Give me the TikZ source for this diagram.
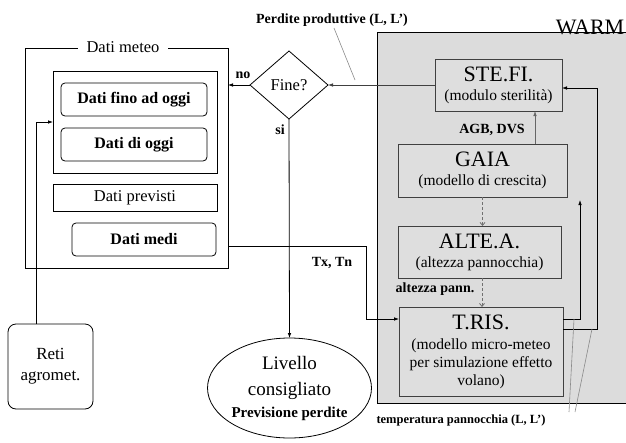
\documentclass[tikz,border=0pt]{standalone}
\usepackage{fontspec}
\setmainfont{Liberation Serif}
\usetikzlibrary{shapes.geometric,arrows.meta}
\newcommand{\fsz}[2]{\fontsize{#1}{#2}\selectfont}
\definecolor{warmbg}{HTML}{DCDCDC}
\definecolor{innergray}{HTML}{DEDEDE}
\definecolor{boxgray}{HTML}{404040}
\definecolor{dashgray}{HTML}{707070}
\definecolor{leadgray}{HTML}{8A8A8A}
\begin{document}
\begin{tikzpicture}[x=1pt,y=-1pt,
  every node/.style={inner sep=0pt,outer sep=0pt},
  arr/.style={line width=0.8pt,-{Latex[length=5pt,width=3.6pt]}},
  darr/.style={line width=0.8pt,draw=dashgray,dash pattern=on 3pt off 2pt,-{Straight Barb[length=3pt,width=5pt]}},
  leader/.style={line width=0.6pt,draw=leadgray},
  databox/.style={draw,line width=0.8pt,minimum width=146pt,minimum height=33pt,font=\fsz{16.5}{19}},
  rdatabox/.style={databox,rounded corners=4pt,font=\bfseries\fsz{16}{19}},
  warmbox/.style={draw=boxgray,fill=innergray,line width=0.9pt,align=center,font=\fsz{15.5}{18}},
  lab/.style={font=\bfseries\fsz{14}{16}},
]
\useasboundingbox (0,0) rectangle (626,442);

% WARM area
\node[fill=warmbg,minimum width=250pt,minimum height=371pt,anchor=north west] (warm) at (377,32) {};
\draw[line width=0.8pt] (warm.north east) -- (warm.north west) -- (warm.south west) -- (warm.south east);
\node[anchor=base,font=\fsz{22}{24}] (warmlab) at (590,34.5) {WARM};

% WARM modules
\node[warmbox,minimum width=127pt,minimum height=52pt] (stefi) at (498.5,85)
  {{\fsz{22}{24}STE.FI.}\\[1pt](modulo sterilità)};
\node[warmbox,minimum width=169pt,minimum height=53pt] (gaia) at (482.5,170.5)
  {{\fsz{22}{24}GAIA}\\[1pt](modello di crescita)};
\node[warmbox,minimum width=163pt,minimum height=52pt] (alte) at (479.5,252)
  {{\fsz{22}{24}ALTE.A.}\\[1pt](altezza pannocchia)};
\node[warmbox,minimum width=164pt,minimum height=89pt] (tris) at (481,351.5)
  {{\fsz{22}{24}T.RIS.}\\[2pt](modello micro-meteo\\per simulazione effetto\\volano)};

% Dati meteo
\node[draw,line width=0.8pt,minimum width=203pt,minimum height=220pt] (meteo) at (126.5,158) {};
\node[fill=white,inner xsep=9pt,inner ysep=2pt,font=\fsz{16.5}{19}] (meteolab) at (123,47) {Dati meteo};
\node[draw,line width=0.8pt,minimum width=164pt,minimum height=102pt] (inner) at (135,122) {};
\node[rdatabox] (fino) at (134,99.5) {Dati fino ad oggi};
\node[rdatabox] (oggi) at (134,144.5) {Dati di oggi};
\node[databox,minimum width=164pt,minimum height=27pt] (prev) at (135,197.5) {Dati previsti};
\node[rdatabox,minimum width=144pt] (medi) at (144,239.5) {Dati medi};

% Reti
\node[draw,line width=0.8pt,rounded corners=8pt,minimum width=85pt,minimum height=85pt,align=center,font=\fsz{17}{21}] (reti) at (50.5,366.5) {Reti\\agromet.};

% Decision
\node[draw,line width=0.8pt,diamond,minimum width=78pt,minimum height=68pt,font=\fsz{16.5}{19}] (fine) at (289,85) {Fine?};
\node[draw,line width=0.8pt,ellipse,minimum width=155pt,minimum height=100pt,align=center,font=\fsz{19}{26}] (liv) at (289.5,388)
  {Livello\\consigliato\\[-4pt]{\bfseries\fsz{15}{17}Previsione perdite}};

% labels
\node[lab] (perd) at (332,20) {Perdite produttive (L, L’)};
\node[lab] (agb) at (492,130) {AGB, DVS};
\node[lab] (txtn) at (332,263) {Tx, Tn};
\node[lab] (apann) at (435,289) {altezza pann.};
\node[lab] (nolab) at (243,75) {no};
\node[lab] (silab) at (280,130) {si};
\node[font=\bfseries\fsz{12.5}{15}] (temp) at (461,420) {temperatura pannocchia (L, L’)};

% connectors
\draw[arr,draw=boxgray] (stefi.west) -- (fine.east);
\draw[arr] (fine.west) -- (meteo.east |- fine.west);
\draw[arr] (fine.south) -- (liv.north);
\draw[arr] ([xshift=-14.5pt]reti.north) |- (inner.west);
\draw[arr] (meteo.east |- 0,246) -| (366,319) -- ([yshift=32.5pt]tris.west);
\draw[arr,draw=boxgray!80] ([xshift=52.5pt]gaia.north) -- ([xshift=52.5pt]gaia.north |- stefi.south);
\draw[darr] (gaia.south) -- (gaia.south |- alte.north);
\draw[darr] ([xshift=2.5pt]alte.south) -- ([xshift=2.5pt]alte.south |- tris.north);
\coordinate (upend) at (580,200);
\draw[arr] ([yshift=32.5pt]tris.east) -| (upend);
\draw[arr] ([yshift=22.5pt]tris.east) -| (597,88) -- (stefi.east |- 0,88);

% leaders
\draw[leader] (334,28) -- (355,80);
\draw[leader] (574,319) -- (569,412);
\draw[leader] (592,329) -- (575,412);
\end{tikzpicture}
\end{document}
